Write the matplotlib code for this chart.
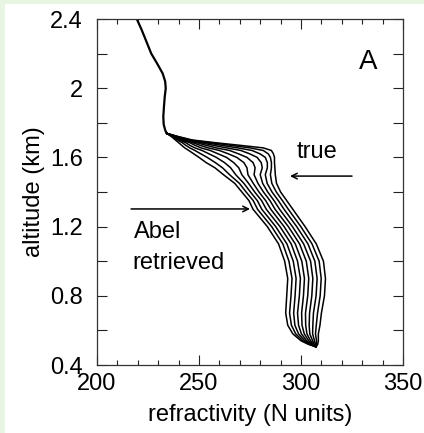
import numpy as np
import matplotlib
matplotlib.use("Agg")
import matplotlib.pyplot as plt
from matplotlib.patches import Rectangle

plt.rcParams['font.family'] = ['Liberation Sans', 'DejaVu Sans']

# single profile above the duct (N units, km)
upper_N = [219.5, 221.8, 224.2, 226.6, 229.6, 232.2, 233.4, 233.7, 233.2, 232.8, 232.5, 232.7, 233.5, 234.2]
upper_alt = [2.4, 2.34, 2.27, 2.2, 2.14, 2.085, 2.04, 2.0, 1.95, 1.89, 1.835, 1.79, 1.755, 1.739]

# altitude levels shared by the fan of profiles
fan_alt = [1.739, 1.72, 1.70, 1.685, 1.67, 1.655, 1.64, 1.62, 1.60, 1.57, 1.54, 1.50, 1.45,
           1.40, 1.35, 1.30, 1.20, 1.10, 1.00, 0.90, 0.80, 0.70, 0.63, 0.58, 0.54, 0.52, 0.506]

# refractivity at each level, one row per level, columns: true profile then Abel retrievals
fan_N = [
    [234.2, 234.2, 234.2, 234.2, 234.2, 234.2, 234.2, 234.2, 234.2, 234.2],
    [240, 239.6, 239.2, 238.8, 238.4, 238.1, 237.7, 237.3, 236.9, 236.5],
    [247, 246, 245, 244.2, 243.3, 242.4, 241.5, 240.5, 239.5, 238.5],
    [258, 256, 253.5, 251, 249, 247, 245.5, 243.5, 241.8, 240],
    [270, 265.5, 261, 257, 253.5, 250.5, 248, 245.5, 243.5, 241.5],
    [281.5, 275, 269, 263.5, 258.5, 254.5, 251, 248, 245.5, 243],
    [285.5, 281.5, 276, 270.5, 265, 260, 255.5, 251.5, 248, 245],
    [286.5, 284, 280, 275, 269.5, 264.5, 259.5, 255, 251, 247.5],
    [287, 285, 282.5, 278.5, 273.5, 268.5, 263.5, 258.5, 254, 250],
    [287, 285.5, 283.5, 280.5, 276.5, 272, 267, 262.5, 258, 253.5],
    [287.2, 285.5, 283.5, 281, 277.5, 273.5, 269.5, 265.5, 261.5, 257.8],
    [287.4, 285, 282.5, 280, 277, 274, 271, 268, 265, 262],
    [288, 285.7, 283.4, 281.2, 278.9, 276.6, 274.3, 272, 269.8, 267.5],
    [290, 287.9, 285.8, 283.7, 281.6, 279.4, 277.3, 275.2, 273.1, 271],
    [293, 290.9, 288.9, 286.8, 284.8, 282.7, 280.7, 278.6, 276.6, 274.5],
    [296, 293.8, 291.7, 289.5, 287.3, 285.2, 283, 280.8, 278.7, 276.5],
    [302, 299.9, 297.9, 295.8, 293.8, 291.7, 289.7, 287.6, 285.6, 283.5],
    [307.5, 305.4, 303.4, 301.3, 299.3, 297.2, 295.2, 293.1, 291.1, 289],
    [311, 308.9, 306.8, 304.7, 302.6, 300.4, 298.3, 296.2, 294.1, 292],
    [312, 309.9, 307.9, 305.8, 303.8, 301.7, 299.7, 297.6, 295.6, 293.5],
    [311.5, 309.4, 307.4, 305.3, 303.3, 301.2, 299.2, 297.1, 295.1, 293],
    [310, 308.1, 306.1, 304.2, 302.2, 300.3, 298.3, 296.4, 294.4, 292.5],
    [309.3, 307.5, 305.8, 304, 302.3, 300.5, 298.8, 297, 295.3, 293.5],
    [308.5, 307.1, 305.7, 304.3, 302.9, 301.6, 300.2, 298.8, 297.4, 296],
    [308.5, 307.6, 306.6, 305.7, 304.7, 303.8, 302.8, 301.9, 300.9, 300],
    [308.2, 307.7, 307.2, 306.6, 306.1, 305.6, 305.1, 304.6, 304, 303.5],
    [307.5, 307.4, 307.4, 307.3, 307.3, 307.2, 307.2, 307.1, 307.1, 307],
]

y_ticks = [0.4, 0.8, 1.2, 1.6, 2.0, 2.4]
y_labels = ['0.4', '0.8', '1.2', '1.6', '2', '2.4']
x_ticks = [200, 250, 300, 350]

fig = plt.figure(figsize=(4.24, 4.33), dpi=100, facecolor='#e8f5e3')
fig.patches.append(Rectangle((5/424, 0), 1, 1 - 4/433, transform=fig.transFigure,
                             facecolor='white', edgecolor='none', zorder=-10))
ax = fig.add_axes([97/424, 1 - 365/433, 306/424, 346/433])

ax.plot(upper_N, upper_alt, color='black', lw=1.6)
fan = np.array(fan_N)
for k in range(fan.shape[1]):
    ax.plot(fan[:, k], fan_alt, color='black', lw=1.1)

ax.set_xlim(200, 350)
ax.set_ylim(0.4, 2.4)
ax.set_xticks(x_ticks)
ax.set_xticks(np.arange(200, 351, 10), minor=True)
ax.set_yticks(y_ticks)
ax.set_yticklabels(y_labels)
ax.set_yticks([0.6, 1.0, 1.4, 1.8, 2.2], minor=True)
ax.tick_params(which='both', direction='in', top=True, right=True, width=0.8, colors='#222222',
               labelsize=17, labelcolor='black')
ax.tick_params(axis='x', which='major', length=7, pad=6)
ax.tick_params(axis='x', which='minor', length=3.5)
ax.tick_params(axis='y', which='both', length=7, pad=10)
for s in ax.spines.values():
    s.set_linewidth(0.9)
    s.set_color('#333333')

ax.set_xlabel('refractivity (N units)', fontsize=17, labelpad=6)
ax.set_ylabel('altitude (km)', fontsize=17, labelpad=4)

ax.text(332.8, 2.15, 'A', fontsize=20, ha='center', va='center')
ax.text(298, 1.63, 'true', fontsize=17, ha='left', va='center')
ax.annotate('', xy=(294.6, 1.492), xytext=(325, 1.492),
            arrowprops=dict(arrowstyle='->', color='black', lw=1.1, shrinkA=0, shrinkB=0))
ax.annotate('', xy=(275, 1.302), xytext=(216.7, 1.302),
            arrowprops=dict(arrowstyle='->', color='black', lw=1.1, shrinkA=0, shrinkB=0))
ax.text(218.3, 1.17, 'Abel', fontsize=17, ha='left', va='center')
ax.text(217.3, 0.99, 'retrieved', fontsize=17, ha='left', va='center')

fig.savefig('out.png', dpi=100, facecolor=fig.get_facecolor())
